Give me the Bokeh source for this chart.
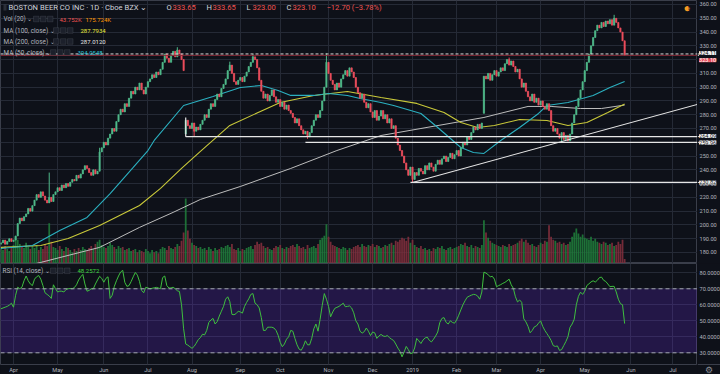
import numpy as np
from bokeh.plotting import figure
from bokeh.layouts import column, row
from bokeh.models import (Range1d, FixedTicker, Label, Span, BoxAnnotation,
                          GlobalInlineStyleSheet)
from bokeh.core.properties import value
from bokeh.embed import file_html
from bokeh.resources import INLINE

# ---------------- data ----------------
first_bar = -6          # bar index of the first candle (0 = first trading day of Apr 2018)
first_open = 186.0
closes = [
    187, 189, 186, 188, 190, 188,
    189, 192, 201, 205, 203, 206, 208, 212, 210, 214,
    218, 222, 220, 224, 221, 218, 216, 220, 217, 222,
    224, 227, 225, 229, 227, 230, 228, 231, 233, 232,
    236, 234, 237, 240, 243, 241, 238, 236, 240, 237,
    239, 253, 256, 260, 258, 263, 266, 270, 268, 275,
    280, 284, 282, 288, 286, 292, 297, 295, 300, 298,
    303, 298, 295, 300, 304, 306, 309, 307, 311, 309,
    313, 318, 324, 321, 318, 323, 326, 322, 327, 324,
    320, 312, 276, 272, 270, 274, 268, 271, 269, 273,
    276, 280, 278, 284, 288, 286, 291, 295, 293, 299,
    302, 306, 312, 316, 310, 304, 302, 305, 307, 304,
    308, 311, 315, 318, 322, 320, 314, 305, 297, 292,
    295, 290, 294, 298, 293, 289, 291, 286, 289, 284,
    287, 283, 281, 278, 274, 277, 272, 269, 266, 268,
    264, 267, 272, 276, 280, 278, 283, 290, 300, 318,
    310, 305, 302, 298, 303, 300, 306, 309, 312, 308,
    314, 311, 307, 300, 296, 292, 295, 289, 285, 288,
    282, 278, 283, 276, 279, 283, 277, 280, 274, 277,
    270, 272, 263, 258, 254, 250, 245, 240, 236, 242,
    233, 238, 236, 241, 239, 237, 243, 240, 245, 242,
    239, 244, 247, 244, 248, 250, 246, 249, 252, 248,
    251, 254, 250, 256, 260, 258, 264, 262, 267, 271,
    269, 273, 270, 274, 308, 306, 310, 305, 309, 312,
    308, 311, 314, 312, 317, 320, 316, 319, 315, 311,
    313, 306, 300, 303, 297, 293, 290, 295, 289, 292,
    287, 290, 286, 284, 288, 283, 272, 268, 270, 266,
    263, 267, 262, 265, 261, 266, 274, 280, 286, 292,
    298, 304, 312, 318, 324, 330, 336, 341, 345, 343,
    347, 344, 348, 346, 349, 345, 350, 347, 343, 340,
    333.65, 323.10,
]
gap_open_bars = [82, 224]
gap_open_vals = [266.0, 281.0]
# notable wicks that stand out in the picture
high_bars = [17, 41, 78, 103, 114, 149, 236, 286, 291]
high_vals = [238.0, 256.0, 329.0, 318.5, 324.0, 324.5, 321.5, 352.5, 333.65]
low_bars = [86, 140, 190, 261, 291]
low_vals = [264.09, 262.5, 230.82, 259.96, 323.00]

volumes_k = [
    150, 130, 170, 140, 120, 160,
    180, 260, 230, 190, 170, 150, 200, 160, 140, 170,
    150, 180, 130, 160, 140, 190, 170, 390, 210, 160,
    150, 130, 170, 140, 120, 160, 150, 130, 110, 140,
    120, 150, 130, 160, 140, 120, 150, 170, 140, 190,
    210, 230, 180, 160, 150, 170, 200, 180, 160, 140,
    170, 150, 160, 130, 140, 150, 120, 130, 140, 110,
    130, 120, 110, 140, 120, 100, 130, 110, 120, 100,
    140, 160, 150, 130, 170, 150, 140, 160, 190, 170,
    220, 300, 630, 320, 240, 200, 180, 170, 150, 160,
    140, 150, 130, 160, 140, 120, 150, 130, 140, 160,
    150, 170, 180, 160, 190, 140, 130, 150, 120, 140,
    130, 150, 160, 170, 140, 180, 210, 190, 200, 170,
    150, 160, 140, 130, 150, 170, 160, 180, 150, 140,
    160, 150, 170, 180, 160, 190, 170, 150, 160, 140,
    180, 150, 160, 170, 150, 190, 230, 250, 270, 380,
    260, 210, 180, 170, 160, 150, 140, 160, 150, 130,
    150, 140, 160, 170, 180, 160, 190, 170, 160, 180,
    170, 190, 160, 180, 170, 150, 160, 180, 170, 190,
    200, 180, 220, 210, 230, 250, 240, 220, 260, 200,
    230, 180, 160, 150, 170, 140, 150, 130, 140, 120,
    150, 140, 160, 150, 170, 140, 130, 150, 160, 140,
    150, 160, 170, 190, 180, 200, 170, 160, 180, 150,
    170, 160, 150, 180, 420, 300, 250, 220, 200, 190,
    180, 170, 160, 180, 170, 160, 190, 170, 180, 190,
    200, 220, 240, 210, 230, 200, 180, 190, 170, 160,
    180, 200, 190, 220, 210, 370, 260, 230, 220, 200,
    210, 190, 200, 180, 190, 210, 260, 300, 340, 290,
    260, 280, 250, 240, 230, 260, 220, 240, 210, 200,
    190, 210, 200, 180, 190, 200, 170, 180, 210, 190,
    230, 43.752,
]

rsi_vals = [
    57.5, 58, 58.5, 59, 59.8, 61,
    58.5, 66, 71, 70, 71, 75, 78, 75, 73, 72,
    76, 77.5, 78.3, 76, 72, 67.5, 66.5, 65.5, 64, 72.5,
    70, 68, 68.5, 68.5, 68, 69.5, 70, 70.2, 70, 70.8,
    72.5, 75.5, 77.5, 79, 73, 68.5, 69, 70, 70, 73,
    75.5, 77.8, 76.5, 74.1, 76.5, 77.5, 64, 66, 71.5, 75,
    78, 80.5, 81.5, 74, 71.5, 72, 74.5, 77.5, 80.2, 78.5,
    74.5, 69, 67.5, 71, 70.5, 70, 70.3, 70.6, 70.9, 70.5,
    70, 77, 78, 72, 70.5, 70.5, 71, 70, 68.8, 68.3,
    60, 45, 35.5, 34.8, 33.8, 32.8, 34, 36, 38.3, 39.5,
    41.6, 41.2, 44, 49, 50.5, 51.5, 48, 49.5, 53, 56,
    59, 63.5, 65, 62, 54, 53.8, 54.5, 56, 55.5, 54.8,
    59, 61.5, 63.7, 66.5, 67, 61, 60, 58, 52, 44,
    44, 46, 46, 46, 45.5, 44, 41, 36.5, 33.8, 35.5,
    38.5, 40, 44, 43.5, 39, 35, 32.3, 31.6, 34, 37.5,
    35, 35, 39, 45, 48, 43.5, 51, 59.6, 67, 63.5,
    59, 52.5, 55.5, 57.8, 58.4, 59, 60, 61, 58.8, 59,
    59.3, 58, 55, 50, 48, 43.5, 42.3, 43.2, 45.5, 43.5,
    40.8, 43, 42.5, 39, 40.5, 41.5, 40.5, 40.2, 40.8, 39.5,
    38.5, 37.7, 35.5, 33, 31, 27.5, 30.5, 34, 32, 29.5,
    29.8, 33, 39, 37.5, 35.8, 38, 39.3, 39.8, 37.8, 36.8,
    38.5, 40.5, 43, 49, 51.5, 52, 49, 48, 50, 49,
    48.5, 50.5, 53.5, 56.8, 60, 62.5, 64.7, 65.4, 66, 66.5,
    66.3, 65.5, 63.5, 68, 80.4, 79.8, 78.8, 77.5, 77.8, 76,
    71.3, 72, 72.6, 73.4, 74, 75, 76, 72.5, 70.3, 65,
    61.8, 63, 61.5, 51.2, 49.3, 46.5, 42.5, 44, 46.2, 46.8,
    48.5, 50, 46.5, 44, 42, 40, 37.7, 34.5, 34, 34.3,
    31.5, 32, 34.5, 37, 40, 46, 48, 51, 60, 65.3,
    67.9, 66.5, 68.5, 72, 73.1, 74.3, 75, 74.2, 75.3, 77,
    77.3, 75.3, 74.6, 73, 71.3, 71.5, 71.5, 68, 63.5, 60.7,
    60, 48.2572,
]

ma50_bars = [-6, 9, 22, 35, 46, 57, 64, 67, 81, 95, 108, 118, 126, 132, 143, 150,
             159, 165, 175, 181, 194, 202, 213, 219, 224, 232, 241, 250, 254, 264,
             276, 284, 291]
ma50_vals = [182.9, 185.1, 196.0, 205.4, 222.8, 241.7, 254.0, 261.3, 286.7, 293.2,
             299.8, 301.2, 297.6, 294.0, 294.0, 295.4, 294.0, 291.8, 288.9, 286.7,
             280.9, 270.7, 256.2, 252.6, 251.9, 261.3, 270.7, 280.9, 286.7, 288.9,
             294.0, 299.8, 304.0548]
ma100_bars = [-6, 13, 26, 41, 60, 70, 80, 89, 103, 127, 143, 159, 175, 192, 205,
              213, 221, 229, 241, 254, 264, 273, 283, 291]
ma100_vals = [183.7, 185.1, 190.2, 199.6, 214.1, 226.5, 241.0, 253.4, 272.2, 288.9,
              294.0, 296.9, 292.5, 288.2, 281.6, 274.4, 270.7, 272.2, 276.5, 275.8,
              272.2, 274.4, 281.6, 287.7934]
ma200_bars = [-6, 13, 41, 60, 76, 89, 108, 132, 154, 175, 194, 224, 245, 256, 270,
              280, 291]
ma200_vals = [166.0, 172.8, 183.7, 198.2, 209.1, 218.5, 227.9, 241.0, 254.0, 264.9,
              270.0, 278.0, 286.0, 286.0, 284.5, 284.5, 287.0120]

level_prices = [264.09, 259.96, 230.82]
level_from_bars = [82, 139, 189]
bracket_bar = 82
bracket_prices = [264.09, 278.0]
trend_bars = [190, 325.7]
trend_prices = [230.82, 287.5]
prev_close_level = 324.11
last_close = 323.10

month_ticks = [0, 21, 43, 64, 85, 108, 127, 150, 171, 190, 211, 230, 251, 272, 294, 314]
month_labels = ["Apr", "May", "Jun", "Jul", "Aug", "Sep", "Oct", "Nov", "Dec", "2019",
                "Feb", "Mar", "Apr", "May", "Jun", "Jul"]
price_ticks = list(range(180, 361, 10))
rsi_ticks = [30, 40, 50, 60, 70, 80]

# ---------------- derived ----------------
n = len(closes)
bars = np.arange(n) + first_bar
opens = [first_open] + closes[:-1]
for b, v in zip(gap_open_bars, gap_open_vals):
    opens[b - first_bar] = v
c = np.array(closes, dtype=float)
o = np.array(opens, dtype=float)
body_top = np.maximum(o, c)
body_bot = np.minimum(o, c)
highs = body_top.copy()
lows = body_bot.copy()
for b, v in zip(high_bars, high_vals):
    highs[b - first_bar] = max(v, body_top[b - first_bar])
for b, v in zip(low_bars, low_vals):
    lows[b - first_bar] = min(v, body_bot[b - first_bar])
up = c >= o
UP = "#4fb98a"
DN = "#eb4d5c"
candle_col = [UP if u else DN for u in up]
vol_col = [("#1f7a3a" if u else "#7f2f3c") for u in up]

BG = "#0e1119"
GRID = "#252a36"
TXT = "#b2b5be"
FONT = "Roboto"
W = 697          # plot frame width
AW = 23          # price-scale strip width
H1 = 263
H2 = 101
XAX = 10         # time axis strip height
X_RANGE = Range1d(-6.2, 325.7)
P_RANGE = Range1d(172.0, 362.9)
R_RANGE = Range1d(22.7, 85.8)
R_PX = (R_RANGE.end - R_RANGE.start) / H2

sheet = GlobalInlineStyleSheet(css="html,body{margin:0;padding:0;background:#0e1119;overflow:hidden;}")


def add_text(fig, H, x, y, text, color, size="6.4px", top=0, style="normal"):
    fig.add_layout(Label(x=x, y=H - (y - top), x_units="screen", y_units="screen",
                         text=text, text_color=color, text_font_size=size,
                         text_font=FONT, text_baseline="middle", text_align="left",
                         text_font_style=style))


def add_icons(fig, H, x0, y, top=0):
    for k in range(3):
        l = x0 + k * 7
        fig.add_layout(BoxAnnotation(left=l, right=l + 5.5, bottom=H - (y - top) - 2.8,
                                     top=H - (y - top) + 2.8,
                                     left_units="screen", right_units="screen",
                                     top_units="screen", bottom_units="screen",
                                     fill_color="#1c202b", fill_alpha=1,
                                     line_color="#6a6d78", line_width=0.8))


def base_fig(w, h, xr, yr, outline="#3a3e4a"):
    f = figure(frame_width=w, frame_height=h, x_range=xr, y_range=yr,
               output_backend="svg", toolbar_location=None, min_border=0,
               background_fill_color=BG, border_fill_color=BG, outline_line_color=outline)
    f.stylesheets = [sheet]
    return f


# ---------------- price pane ----------------
p = base_fig(W, H1, X_RANGE, P_RANGE)
p.xaxis.visible = False
p.yaxis.visible = False
p.xgrid.ticker = FixedTicker(ticks=month_ticks)
p.ygrid.ticker = FixedTicker(ticks=price_ticks)
p.grid.grid_line_color = GRID

p.extra_y_ranges = {"vol": Range1d(0, 2550)}
p.vbar(x=bars, width=0.85, top=volumes_k, bottom=0, y_range_name="vol",
       fill_color=vol_col, line_color=None, fill_alpha=0.9)

p.line(ma200_bars, ma200_vals, line_color="#bdbdbd", line_width=1)
p.line(ma100_bars, ma100_vals, line_color="#c9c93a", line_width=1.1)
p.line(ma50_bars, ma50_vals, line_color="#2bb0c0", line_width=1.1)

p.segment(x0=bars, x1=bars, y0=lows, y1=highs, line_color=candle_col, line_width=1)
p.vbar(x=bars, width=0.62, top=body_top, bottom=body_bot,
       fill_color=candle_col, line_color=candle_col, line_width=0.6)

p.segment(x0=level_from_bars, y0=level_prices, x1=[X_RANGE.end] * len(level_prices),
          y1=level_prices, line_color="#e6e6e6", line_width=1.2)
p.segment(x0=[bracket_bar], y0=[bracket_prices[0]], x1=[bracket_bar], y1=[bracket_prices[1]],
          line_color="#e6e6e6", line_width=1.2)
p.line(trend_bars, trend_prices, line_color="#e6e6e6", line_width=1.1)

p.add_layout(Span(location=last_close, dimension="width", line_color="#8c2a37", line_width=1))
p.add_layout(Span(location=prev_close_level, dimension="width", line_color="#d8d8d8",
                  line_width=1, line_dash="3 2"))

# legend texts
p.add_layout(BoxAnnotation(left=3, right=6, bottom=H1 - 10, top=H1 - 4,
                           left_units="screen", right_units="screen",
                           top_units="screen", bottom_units="screen",
                           fill_color="#555a66", line_color=None))
add_text(p, H1, 8, 7, "BOSTON BEER CO INC · 1D · Cboe BZX ⌄", "#d1d4dc", size="7.6px")
ohlc_letters = ["O", "H", "L", "C"]
ohlc_vals = ["333.65", "333.65", "323.00", "323.10"]
for k, (lt, vv) in enumerate(zip(ohlc_letters, ohlc_vals)):
    add_text(p, H1, 166 + 40 * k, 7, lt, "#d1d4dc", size="7.6px")
    add_text(p, H1, 172 + 40 * k, 7, vv, "#ef5350", size="7.6px")
add_text(p, H1, 326, 7, "−12.70 (−3.78%)", "#ef5350", size="7.6px")

add_text(p, H1, 3, 18.5, "Vol (20) ⌄", TXT)
add_icons(p, H1, 33, 18.5)
add_text(p, H1, 59, 18.5, "43.752K", "#ef5350", size="6px")
add_text(p, H1, 85, 18.5, "175.724K", "#ff9800", size="6px")
add_text(p, H1, 3, 30, "MA (100, close) ⌄", TXT)
add_icons(p, H1, 53, 30)
add_text(p, H1, 80, 30, "287.7934", "#e8e83a", size="6px")
add_text(p, H1, 3, 41, "MA (200, close) ⌄", TXT)
add_icons(p, H1, 53, 41)
add_text(p, H1, 80, 41, "287.0120", "#e6e6e6", size="6px")
add_text(p, H1, 3, 52, "MA (50, close) ⌄", TXT)
add_icons(p, H1, 50, 52)
add_text(p, H1, 77, 52, "304.0548", "#2bc4d6", size="6px")

add_text(p, H1, 683, 7.5, "●", "#f59b23", size="12px")
add_text(p, H1, 687.5, 7, "!", "#131722", size="7px", style="bold")

# ---------------- price scale strip ----------------
pa = base_fig(AW, H1, Range1d(0, AW), P_RANGE, outline=None)
pa.axis.visible = False
pa.grid.visible = False
pa.text(x=[2] * len(price_ticks), y=price_ticks, text=["%.2f" % t for t in price_ticks],
        text_font=value(FONT), text_font_size=value("5.6px"), text_color=TXT,
        text_baseline="middle", text_align="left")
pa.segment(x0=[0] * 5, x1=[1.5] * 5,
           y0=[prev_close_level, last_close] + level_prices,
           y1=[prev_close_level, last_close] + level_prices, line_color="#d8d8d8", line_width=1)
for val, bg, fg, ypos in [(prev_close_level, "#f0f0f0", "#131722", prev_close_level + 0.6),
                          (last_close, DN, "#ffffff", 319.6),
                          (level_prices[0], "#f0f0f0", "#131722", level_prices[0] + 0.4),
                          (level_prices[1], "#f0f0f0", "#131722", level_prices[1] - 0.4),
                          (level_prices[2], "#f0f0f0", "#131722", level_prices[2])]:
    pa.add_layout(Label(x=1.5, y=ypos, x_units="data", y_units="data",
                        text="%.2f" % val, text_color=fg, text_font_size="5.6px",
                        text_font=FONT, text_baseline="middle",
                        background_fill_color=bg, background_fill_alpha=1))

# ---------------- RSI pane ----------------
r = base_fig(W, H2, X_RANGE, R_RANGE)
r.yaxis.visible = False
r.xgrid.ticker = FixedTicker(ticks=month_ticks)
r.ygrid.ticker = FixedTicker(ticks=rsi_ticks)
r.grid.grid_line_color = GRID
r.add_layout(BoxAnnotation(bottom=30, top=70, fill_color="#6a2ed8", fill_alpha=0.24,
                           line_color=None, level="underlay"))
r.add_layout(Span(location=70, dimension="width", line_color="#a3a6b0", line_width=1,
                  line_dash="4 3"))
r.add_layout(Span(location=30, dimension="width", line_color="#a3a6b0", line_width=1,
                  line_dash="4 3"))
r.line(np.arange(len(rsi_vals)) + first_bar, rsi_vals, line_color="#3fbf3f", line_width=1)

r.xaxis.ticker = FixedTicker(ticks=month_ticks)
r.xaxis.major_label_overrides = {t: lab for t, lab in zip(month_ticks, month_labels)}
ax = r.xaxis[0]
ax.major_tick_line_color = None
ax.minor_tick_line_color = None
ax.major_tick_out = 0
ax.major_tick_in = 0
ax.minor_tick_out = 0
ax.minor_tick_in = 0
ax.axis_line_color = None
ax.major_label_text_font_size = "5.6px"
ax.major_label_text_color = TXT
ax.major_label_text_font = FONT
ax.major_label_standoff = 2

add_text(r, H2, 2, 270, "RSI (14, close) ⌄", TXT, top=262.7)
add_icons(r, H2, 50, 270, top=262.7)
add_text(r, H2, 77, 270, "48.2572", "#3fd83f", size="6px", top=262.7)

# ---------------- RSI scale strip ----------------
ra = base_fig(AW, H2 + XAX, Range1d(0, AW),
              Range1d(R_RANGE.start - XAX * R_PX, R_RANGE.end), outline=None)
ra.axis.visible = False
ra.grid.visible = False
ra.text(x=[2] * len(rsi_ticks), y=rsi_ticks, text=["%.4f" % t for t in rsi_ticks],
        text_font=value(FONT), text_font_size=value("5.6px"), text_color=TXT,
        text_baseline="middle", text_align="left")
ra.segment(x0=[0], x1=[AW], y0=[R_RANGE.start], y1=[R_RANGE.start],
           line_color="#3a3e4a", line_width=1)
ra.text(x=[AW / 2], y=[R_RANGE.start - XAX * R_PX / 2], text=["⚙"],
        text_font_size=value("9px"), text_color="#8a8d96",
        text_baseline="middle", text_align="center")

layout = column(row(p, pa, spacing=0), row(r, ra, spacing=0), spacing=0)
layout.stylesheets = [sheet]
open("out.html", "w").write(file_html(layout, INLINE))
